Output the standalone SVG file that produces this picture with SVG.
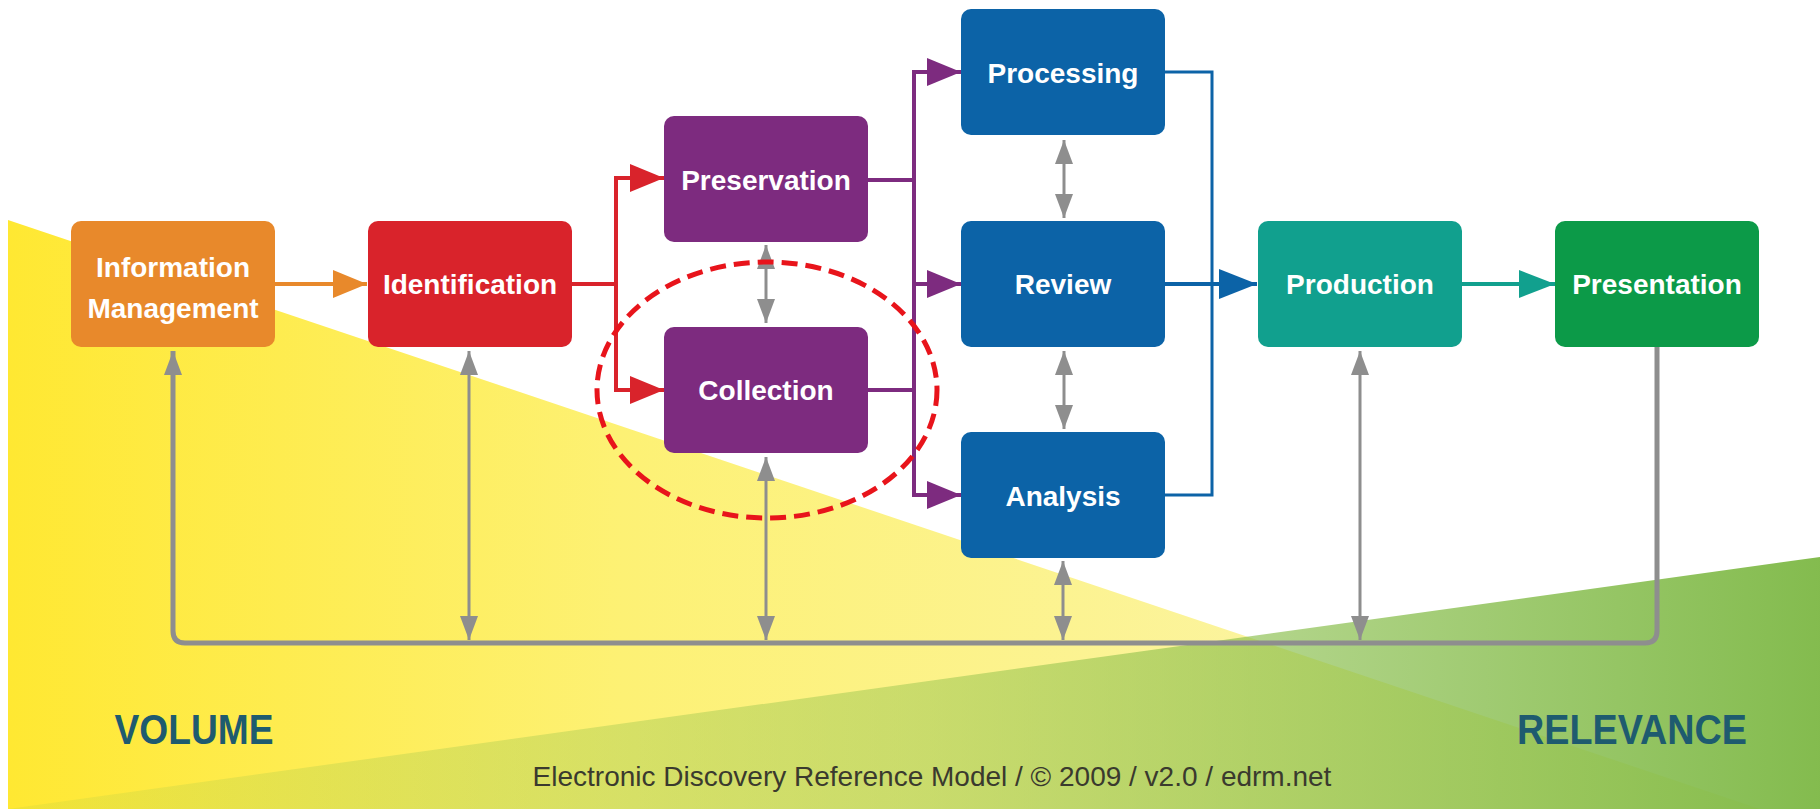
<svg xmlns="http://www.w3.org/2000/svg" width="1820" height="809" viewBox="0 0 1820 809">
<defs>
<linearGradient id="gYellow" x1="8" y1="0" x2="1760" y2="0" gradientUnits="userSpaceOnUse">
<stop offset="0" stop-color="#FFE832"/>
<stop offset="0.35" stop-color="#FDF174"/>
<stop offset="1" stop-color="#FAF6BE"/>
</linearGradient>
<linearGradient id="gGreen" x1="8" y1="0" x2="1820" y2="0" gradientUnits="userSpaceOnUse">
<stop offset="0" stop-color="#8DC04A" stop-opacity="0.12"/>
<stop offset="0.5" stop-color="#8DC04A" stop-opacity="0.45"/>
<stop offset="1" stop-color="#7DB845" stop-opacity="0.95"/>
</linearGradient>
<marker id="aOrange" markerUnits="userSpaceOnUse" markerWidth="34" markerHeight="28" refX="34" refY="14" orient="auto"><path d="M0,0 L34,14 L0,28 Z" fill="#E8892B"/></marker>
<marker id="aRed" markerUnits="userSpaceOnUse" markerWidth="34" markerHeight="28" refX="34" refY="14" orient="auto"><path d="M0,0 L34,14 L0,28 Z" fill="#D9232B"/></marker>
<marker id="aPurple" markerUnits="userSpaceOnUse" markerWidth="34" markerHeight="28" refX="34" refY="14" orient="auto"><path d="M0,0 L34,14 L0,28 Z" fill="#7D2B7F"/></marker>
<marker id="aBlue" markerUnits="userSpaceOnUse" markerWidth="38" markerHeight="30" refX="38" refY="15" orient="auto"><path d="M0,0 L38,15 L0,30 Z" fill="#0C63A7"/></marker>
<marker id="aTeal" markerUnits="userSpaceOnUse" markerWidth="36" markerHeight="28" refX="36" refY="14" orient="auto"><path d="M0,0 L36,14 L0,28 Z" fill="#11A08E"/></marker>
<marker id="aGray" markerUnits="userSpaceOnUse" markerWidth="24" markerHeight="18" refX="24" refY="9" orient="auto-start-reverse"><path d="M0,0 L24,9 L0,18 Z" fill="#8E8E8E"/></marker>
</defs>
<style>
.box text{font-family:"Liberation Sans",Arial,sans-serif;font-weight:bold;font-size:28px;fill:#FFFFFF;text-anchor:middle}
.col{fill:none;stroke-width:4}
.gray{fill:none;stroke:#8E8E8E;stroke-width:3}
.big{font-family:"Liberation Sans",Arial,sans-serif;font-weight:bold;font-size:42px;fill:#1E5B6F;text-anchor:middle}
.foot{font-family:"Liberation Sans",Arial,sans-serif;font-size:28px;fill:#3A3A2E;text-anchor:middle}
</style>
<rect width="1820" height="809" fill="#FFFFFF"/>
<g id="background">
<polygon points="8,220 1760,809 8,809" fill="url(#gYellow)"/>
<polygon points="8,809 1820,557 1820,809" fill="url(#gGreen)"/>
</g>
<g id="connectors">
<path class="col" stroke="#E8892B" d="M275,284 H367" marker-end="url(#aOrange)"/>
<path class="col" stroke="#D9232B" d="M571,284 H616"/>
<path class="col" stroke="#D9232B" d="M616,286 V178 H664" marker-end="url(#aRed)"/>
<path class="col" stroke="#D9232B" d="M616,282 V390 H664" marker-end="url(#aRed)"/>
<path class="col" stroke="#7D2B7F" d="M868,180 H914"/>
<path class="col" stroke="#7D2B7F" d="M868,390 H914"/>
<path class="col" stroke="#7D2B7F" d="M914,290 V72 H961" marker-end="url(#aPurple)"/>
<path class="col" stroke="#7D2B7F" d="M914,284 H961" marker-end="url(#aPurple)"/>
<path class="col" stroke="#7D2B7F" d="M914,280 V495 H961" marker-end="url(#aPurple)"/>
<path fill="none" stroke="#0C63A7" stroke-width="3" d="M1165,72 H1212 V495 H1165"/>
<path class="col" stroke="#0C63A7" d="M1165,284 H1257" marker-end="url(#aBlue)"/>
<path class="col" stroke="#11A08E" d="M1461,284 H1555" marker-end="url(#aTeal)"/>
<path class="gray" d="M766,245 V323" marker-start="url(#aGray)" marker-end="url(#aGray)"/>
<path class="gray" d="M1064,140 V218" marker-start="url(#aGray)" marker-end="url(#aGray)"/>
<path class="gray" d="M1064,351 V429" marker-start="url(#aGray)" marker-end="url(#aGray)"/>
<path fill="none" stroke="#8E8E8E" stroke-width="5" d="M173,351 V631 Q173,643 185,643 H1645 Q1657,643 1657,631 V347" marker-start="url(#aGray)"/>
<path class="gray" d="M469,351 V640" marker-start="url(#aGray)" marker-end="url(#aGray)"/>
<path class="gray" d="M766,457 V640" marker-start="url(#aGray)" marker-end="url(#aGray)"/>
<path class="gray" d="M1063,561 V640" marker-start="url(#aGray)" marker-end="url(#aGray)"/>
<path class="gray" d="M1360,351 V640" marker-start="url(#aGray)" marker-end="url(#aGray)"/>
</g>
<g id="info-management" class="box">
<rect x="71" y="221" width="204" height="126" rx="10" fill="#E8892B"/>
<text x="173" y="277">Information</text>
<text x="173" y="318">Management</text>
</g>
<g id="identification" class="box">
<rect x="368" y="221" width="204" height="126" rx="10" fill="#D9232B"/>
<text x="470" y="294">Identification</text>
</g>
<g id="preservation" class="box">
<rect x="664" y="116" width="204" height="126" rx="10" fill="#7D2B7F"/>
<text x="766" y="190">Preservation</text>
</g>
<g id="collection" class="box">
<rect x="664" y="327" width="204" height="126" rx="10" fill="#7D2B7F"/>
<text x="766" y="400">Collection</text>
</g>
<g id="processing" class="box">
<rect x="961" y="9" width="204" height="126" rx="10" fill="#0C63A7"/>
<text x="1063" y="83">Processing</text>
</g>
<g id="review" class="box">
<rect x="961" y="221" width="204" height="126" rx="10" fill="#0C63A7"/>
<text x="1063" y="294">Review</text>
</g>
<g id="analysis" class="box">
<rect x="961" y="432" width="204" height="126" rx="10" fill="#0C63A7"/>
<text x="1063" y="506">Analysis</text>
</g>
<g id="production" class="box">
<rect x="1258" y="221" width="204" height="126" rx="10" fill="#11A08E"/>
<text x="1360" y="294">Production</text>
</g>
<g id="presentation" class="box">
<rect x="1555" y="221" width="204" height="126" rx="10" fill="#0C9A48"/>
<text x="1657" y="294">Presentation</text>
</g>
<g id="highlight">
<ellipse cx="767" cy="390" rx="170" ry="128" fill="none" stroke="#E8141B" stroke-width="5" stroke-dasharray="16 8"/>
</g>
<g id="labels">
<text class="big" x="194" y="744" textLength="159" lengthAdjust="spacingAndGlyphs">VOLUME</text>
<text class="big" x="1632" y="744" textLength="230" lengthAdjust="spacingAndGlyphs">RELEVANCE</text>
<text class="foot" x="932" y="786">Electronic Discovery Reference Model / © 2009 / v2.0 / edrm.net</text>
</g>
</svg>
